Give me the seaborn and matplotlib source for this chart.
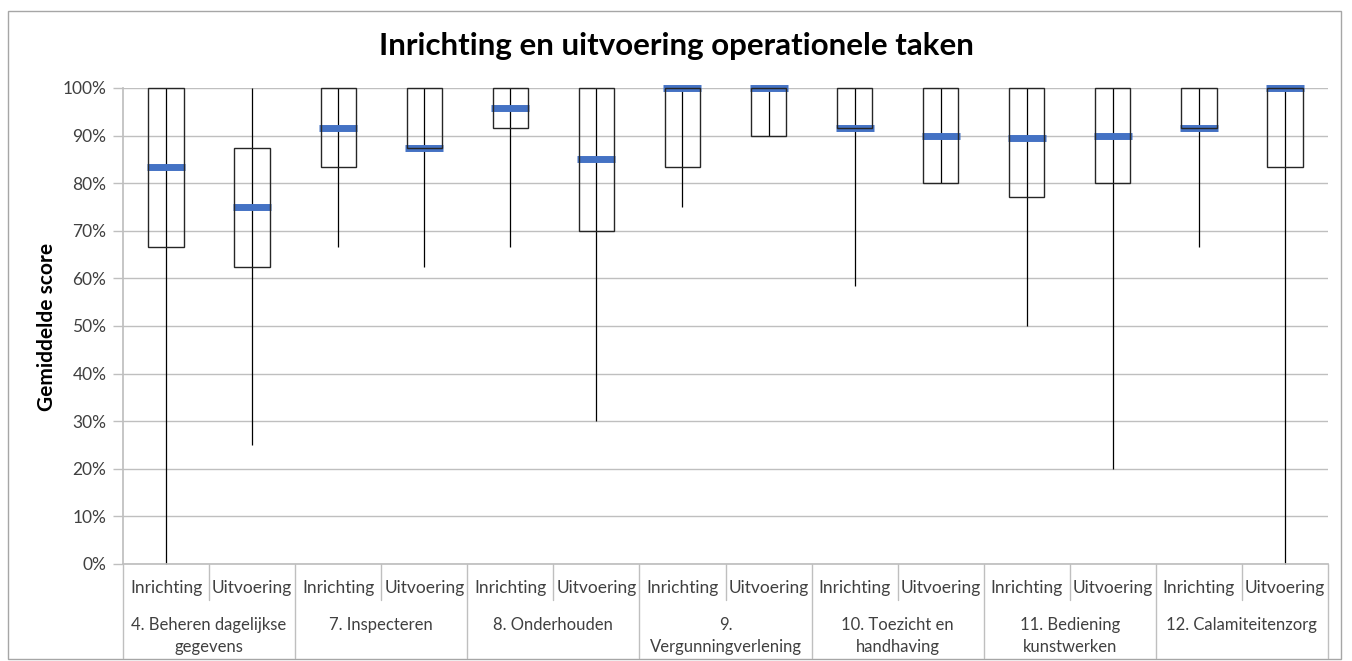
import numpy as np
import pandas as pd
import matplotlib
matplotlib.use("Agg")
import matplotlib.pyplot as plt
import matplotlib.patches as mpatches
import seaborn as sns

# ---------------------------------------------------------
# Data (fractions of 1)
# ---------------------------------------------------------
groups = [
    "4. Beheren dagelijkse\ngegevens",
    "7. Inspecteren",
    "8. Onderhouden",
    "9.\nVergunningverlening",
    "10. Toezicht en\nhandhaving",
    "11. Bediening\nkunstwerken",
    "12. Calamiteitenzorg",
]
phases = ["Inrichting", "Uitvoering"]

low = [0.0, 0.25, 0.667, 0.625, 0.667, 0.30, 0.75, 0.90, 0.583, 0.80, 0.50, 0.20, 0.667, 0.0]
q1 = [0.667, 0.625, 0.833, 0.875, 0.917, 0.70, 0.833, 0.90, 0.917, 0.80, 0.771, 0.80, 0.917, 0.833]
median = [0.833, 0.75, 0.917, 0.875, 0.958, 0.85, 1.0, 1.0, 0.917, 0.90, 0.896, 0.90, 0.917, 1.0]
q3 = [1.0, 0.875, 1.0, 1.0, 1.0, 1.0, 1.0, 1.0, 1.0, 1.0, 1.0, 1.0, 1.0, 1.0]
high = [1.0] * 14

df = pd.DataFrame({
    "group": np.repeat(groups, len(phases)),
    "phase": phases * len(groups),
    "low": low, "q1": q1, "median": median, "q3": q3, "high": high,
})
df["pos"] = np.arange(len(df))

FONT = ["Lato", "DejaVu Sans"]
BLUE = "#4472C4"

sns.set_theme(style="white")
plt.rcParams["font.family"] = FONT

fig = plt.figure(figsize=(13.52, 6.61), dpi=100)
ax = fig.add_axes([123 / 1352, 1 - 564 / 661, 1205 / 1352, 476 / 661])

# whiskers (min-max)
ax.vlines(df["pos"], df["low"], df["high"], color="black", lw=0.9, zorder=2,
          clip_on=False)

# medians as thick blue dashes
sns.scatterplot(data=df, x="pos", y="median", marker="_", s=740, linewidth=5,
                color=BLUE, ax=ax, zorder=3, legend=False, clip_on=False)

# boxes (q1-q3)
ax.bar(df["pos"], df["q3"] - df["q1"], bottom=df["q1"], width=0.41,
       fill=False, edgecolor="#262626", lw=1.0, zorder=4, clip_on=False)

ax.set_xlim(-0.5, len(df) - 0.5)
ax.set_ylim(0, 1)
ax.set_yticks(np.arange(0, 1.01, 0.1))
ax.set_yticklabels([f"{int(round(v * 100))}%" for v in np.arange(0, 1.01, 0.1)])
ax.yaxis.grid(True, color="#bfbfbf", lw=1.0)
ax.set_axisbelow(True)
ax.tick_params(axis="y", left=True, length=7, width=1, color="#bfbfbf",
               pad=5, labelsize=12.5, labelcolor="#404040")
ax.set_xticks([])
ax.set_xlabel("")
ax.set_ylabel("")
for side in ["top", "right"]:
    ax.spines[side].set_visible(False)
ax.spines["left"].set_color("#bfbfbf")
ax.spines["bottom"].set_color("#bfbfbf")

# two-level category axis
trans = ax.get_xaxis_transform()
for p, ph in zip(df["pos"], df["phase"]):
    ax.text(p, -0.0504, ph, transform=trans, ha="center", va="center",
            fontsize=12.5, color="#404040")
for i, g in enumerate(groups):
    ax.text(2 * i + 0.5, -0.111, g, transform=trans, ha="center", va="top",
            fontsize=12, color="#404040", linespacing=1.5)
for i in range(len(groups)):
    ax.plot([2 * i + 0.5] * 2, [0, -0.0756], transform=trans, color="#bfbfbf",
            lw=1, clip_on=False)
for i in range(len(groups) + 1):
    ax.plot([2 * i - 0.5] * 2, [0, -0.197], transform=trans, color="#bfbfbf",
            lw=1, clip_on=False)

fig.text(0.5, 1 - 46 / 661, "Inrichting en uitvoering operationele taken",
         ha="center", va="center", fontsize=22.5, fontweight="bold", color="black")
fig.text(47 / 1352, 1 - 327 / 661, "Gemiddelde score", rotation=90,
         ha="center", va="center", fontsize=15, fontweight="bold", color="black")

# chart area border
fig.patches.append(mpatches.Rectangle((8 / 1352, 1 - 659 / 661), 1333 / 1352, 648 / 661,
                                      transform=fig.transFigure, fill=False,
                                      edgecolor="#a6a6a6", lw=1))

fig.savefig("out.png", dpi=100)
